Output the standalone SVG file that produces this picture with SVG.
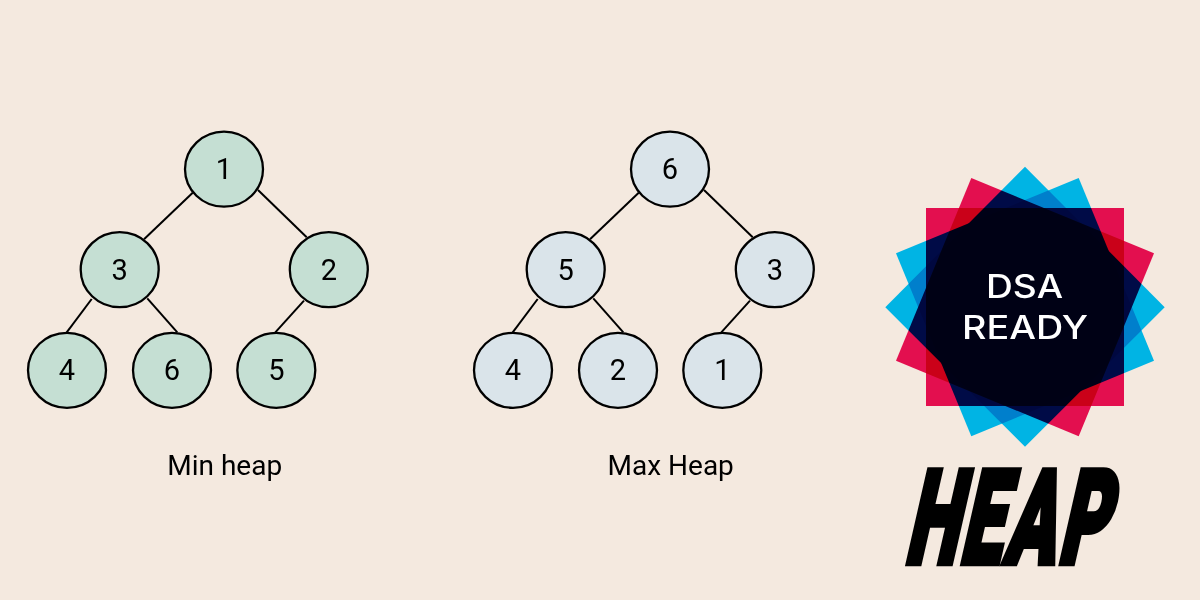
<svg xmlns="http://www.w3.org/2000/svg" width="1200" height="600" viewBox="0 0 1200 600">
<style>
.min{fill:#c5dfd3;stroke:#000;stroke-width:2.3}
.max{fill:#dae4ea;stroke:#000;stroke-width:2.3}
.n{font:400 29px Roboto,"Liberation Sans",sans-serif;fill:#000;text-anchor:middle}
.t{font:400 28px Roboto,"Liberation Sans",sans-serif;fill:#000;text-anchor:middle}
#connectors line{stroke:#000;stroke-width:2}
.r{fill:#e30f4f;mix-blend-mode:multiply}
.b{fill:#00b4e4;mix-blend-mode:multiply}
.l{font:500 32px Inter,"Liberation Sans",sans-serif;fill:#fff}
</style>
<rect width="1200" height="600" fill="#f4e9df"/>
<g id="connectors">
<line x1="192.7" y1="192.7" x2="144" y2="239.3"/>
<line x1="258" y1="190" x2="306.7" y2="237.3"/>
<line x1="91.7" y1="299" x2="66.7" y2="332.3"/>
<line x1="147.3" y1="298.3" x2="177.3" y2="332.3"/>
<line x1="304" y1="300.7" x2="275.3" y2="332.3"/>
<line x1="638.7" y1="192.7" x2="590" y2="239.3"/>
<line x1="704" y1="190" x2="752.7" y2="237.3"/>
<line x1="537.7" y1="299" x2="512.7" y2="332.3"/>
<line x1="593.3" y1="298.3" x2="623.3" y2="332.3"/>
<line x1="750" y1="300.7" x2="721.3" y2="332.3"/>
</g>
<g id="min-1"><ellipse class="min" cx="224" cy="169.2" rx="39" ry="37.5"/><text class="n" x="224" y="179">1</text></g>
<g id="min-3"><ellipse class="min" cx="119.7" cy="269.7" rx="39" ry="37.5"/><text class="n" x="119.7" y="279.5">3</text></g>
<g id="min-2"><ellipse class="min" cx="328.8" cy="269.7" rx="39" ry="37.5"/><text class="n" x="328.8" y="279.5">2</text></g>
<g id="min-4"><ellipse class="min" cx="67" cy="370.3" rx="39" ry="37.5"/><text class="n" x="67" y="380">4</text></g>
<g id="min-6"><ellipse class="min" cx="172" cy="370.3" rx="39" ry="37.5"/><text class="n" x="172" y="380">6</text></g>
<g id="min-5"><ellipse class="min" cx="276.3" cy="370.3" rx="39" ry="37.5"/><text class="n" x="276.3" y="380">5</text></g>
<g id="max-6"><ellipse class="max" cx="670" cy="169.2" rx="39" ry="37.5"/><text class="n" x="670" y="179">6</text></g>
<g id="max-5"><ellipse class="max" cx="565.7" cy="269.7" rx="39" ry="37.5"/><text class="n" x="565.7" y="279.5">5</text></g>
<g id="max-3"><ellipse class="max" cx="774.8" cy="269.7" rx="39" ry="37.5"/><text class="n" x="774.8" y="279.5">3</text></g>
<g id="max-4"><ellipse class="max" cx="513" cy="370.3" rx="39" ry="37.5"/><text class="n" x="513" y="380">4</text></g>
<g id="max-2"><ellipse class="max" cx="618" cy="370.3" rx="39" ry="37.5"/><text class="n" x="618" y="380">2</text></g>
<g id="max-1"><ellipse class="max" cx="722.3" cy="370.3" rx="39" ry="37.5"/><text class="n" x="722.3" y="380">1</text></g>
<text class="t" x="224.7" y="475">Min heap</text>
<text class="t" x="670.7" y="475">Max Heap</text>
<g id="logo" style="isolation:isolate">
<rect class="r" x="926" y="208" width="198" height="198"/>
<polygon class="r" points="971.3,178 1154,253.3 1078.7,436.3 896,360.7"/>
<polygon class="b" points="1025,166.7 1164.7,307.3 1025,446.7 885.3,307.3"/>
<polygon class="b" points="1078.7,178 1154,360.7 971.3,436.3 896,253.3"/>
</g>
<text class="l" x="986" y="298" textLength="77" lengthAdjust="spacingAndGlyphs">DSA</text>
<text class="l" x="962" y="339" textLength="126" lengthAdjust="spacingAndGlyphs">READY</text>
<g transform="translate(905,562.5) skewX(-12.8) scale(0.74,1.3)">
<text x="-2 72 132 205" y="0" font-family="Roboto,'Liberation Sans',sans-serif" font-weight="900" font-size="100" stroke="#000" stroke-width="5" stroke-linejoin="miter">HEAP</text>
</g>
</svg>
